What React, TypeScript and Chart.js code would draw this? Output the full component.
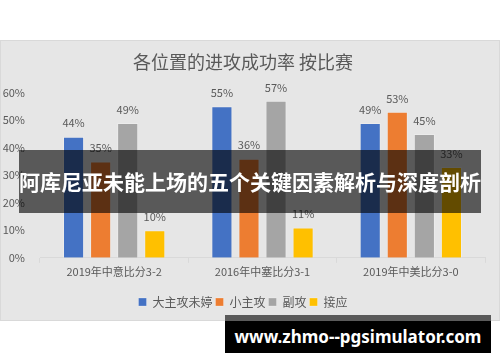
import React, { useEffect, useRef } from "react";
import { Chart, registerables } from "chart.js";

Chart.register(...registerables);

const categories = ["2019年中意比分3-2", "2016年中塞比分3-1", "2019年中美比分3-0"];
const seriesNames = ["大主攻未婷", "小主攻", "副攻", "接应"];
const mainAttack = [44, 55, 49];
const smallAttack = [35, 36, 53];
const middle = [49, 57, 45];
const opposite = [10, 11, 33];
const yTicks = [0, 10, 20, 30, 40, 50, 60];
const colors = ["#4472c4", "#ed7d31", "#a5a5a5", "#ffc000"];
const titleText = "各位置的进攻成功率 按比赛";
const bannerText = "阿库尼亚未能上场的五个关键因素解析与深度剖析";
const watermarkText = "www.zhmo--pgsimulator.com";

const FONT = "'Noto Sans CJK SC', 'Noto Sans', sans-serif";
const TEXT = "#595959";

const labelPlugin = {
  id: "barLabels",
  afterDatasetsDraw(chart: any) {
    const ctx = chart.ctx;
    ctx.save();
    ctx.font = `11px ${FONT}`;
    ctx.fillStyle = TEXT;
    ctx.textAlign = "center";
    ctx.textBaseline = "bottom";
    chart.data.datasets.forEach((ds: any, i: number) => {
      const meta = chart.getDatasetMeta(i);
      meta.data.forEach((bar: any, j: number) => {
        ctx.fillText(ds.data[j] + "%", bar.x, bar.y - 8);
      });
    });
    ctx.restore();
  },
};

export default function App() {
  const ref = useRef<HTMLCanvasElement | null>(null);
  useEffect(() => {
    if (!ref.current) return;
    const values = [mainAttack, smallAttack, middle, opposite];
    const chart = new Chart(ref.current, {
      type: "bar",
      data: {
        labels: categories,
        datasets: seriesNames.map((name, i) => ({
          label: name,
          data: values[i],
          backgroundColor: colors[i],
          borderColor: "rgba(255,255,255,0.25)",
          borderWidth: 1,
          categoryPercentage: 0.73,
          barPercentage: 0.78,
        })),
      },
      options: {
        animation: false,
        responsive: false,
        layout: { padding: { left: 0, right: 14, top: 0, bottom: 2 } },
        plugins: {
          title: {
            display: true,
            text: titleText,
            color: TEXT,
            font: { family: FONT, size: 18, weight: "normal" },
            padding: { top: 10, bottom: 20 },
          },
          legend: {
            display: true,
            position: "bottom",
            labels: {
              boxWidth: 8,
              boxHeight: 8,
              color: TEXT,
              font: { family: FONT, size: 12 },
              padding: 3,
            },
          },
          tooltip: { enabled: false },
        },
        scales: {
          x: {
            grid: {
              offset: true,
              drawOnChartArea: false,
              tickLength: 5,
              color: "#d9d9d9",
            },
            border: { color: "#d9d9d9" },
            ticks: { color: TEXT, font: { family: FONT, size: 11 }, padding: 2 },
            afterFit: (scale: any) => {
              scale.height += 13;
            },
          },
          y: {
            min: 0,
            max: 60,
            grid: { display: false },
            border: { display: false },
            afterBuildTicks: (scale: any) => {
              scale.ticks = yTicks.map((v) => ({ value: v }));
            },
            afterFit: (scale: any) => {
              scale.width = 39;
            },
            ticks: {
              color: TEXT,
              font: { family: FONT, size: 11 },
              padding: 7,
              callback: (v: any) => v + "%",
            },
          },
        },
      },
      plugins: [labelPlugin],
    });
    return () => chart.destroy();
  }, []);

  return (
    <div style={{ position: "absolute", left: 0, top: 0, width: 500, height: 362, background: "#fff", overflow: "hidden" }}>
      <div
        style={{
          position: "absolute",
          left: 0,
          top: 40,
          width: 500,
          height: 281,
          boxSizing: "border-box",
          border: "1px solid #d9d9d9",
          background: "#e6e6e6",
        }}
      >
        <canvas ref={ref} width={498} height={279} style={{ display: "block", width: 498, height: 279 }} />
      </div>
      <div
        style={{
          position: "absolute",
          left: 19,
          top: 150,
          width: 462,
          height: 63,
          background: "rgba(0,0,0,0.61)",
          color: "#fff",
          fontFamily: FONT,
          fontWeight: "bold",
          fontSize: 21,
          lineHeight: "63px",
          textAlign: "center",
          whiteSpace: "nowrap",
        }}
      >
        {bannerText}
      </div>
      <div
        style={{
          position: "absolute",
          left: 225,
          top: 315,
          width: 266,
          height: 38,
          boxSizing: "border-box",
          borderTop: "6px solid #5a5a5a",
          background: "#000",
          color: "#fff",
          fontFamily: "'Noto Sans', 'Open Sans', sans-serif",
          fontWeight: "bold",
          fontSize: 17,
          lineHeight: "32px",
          textAlign: "center",
          whiteSpace: "nowrap",
        }}
      >
        {watermarkText}
      </div>
    </div>
  );
}
